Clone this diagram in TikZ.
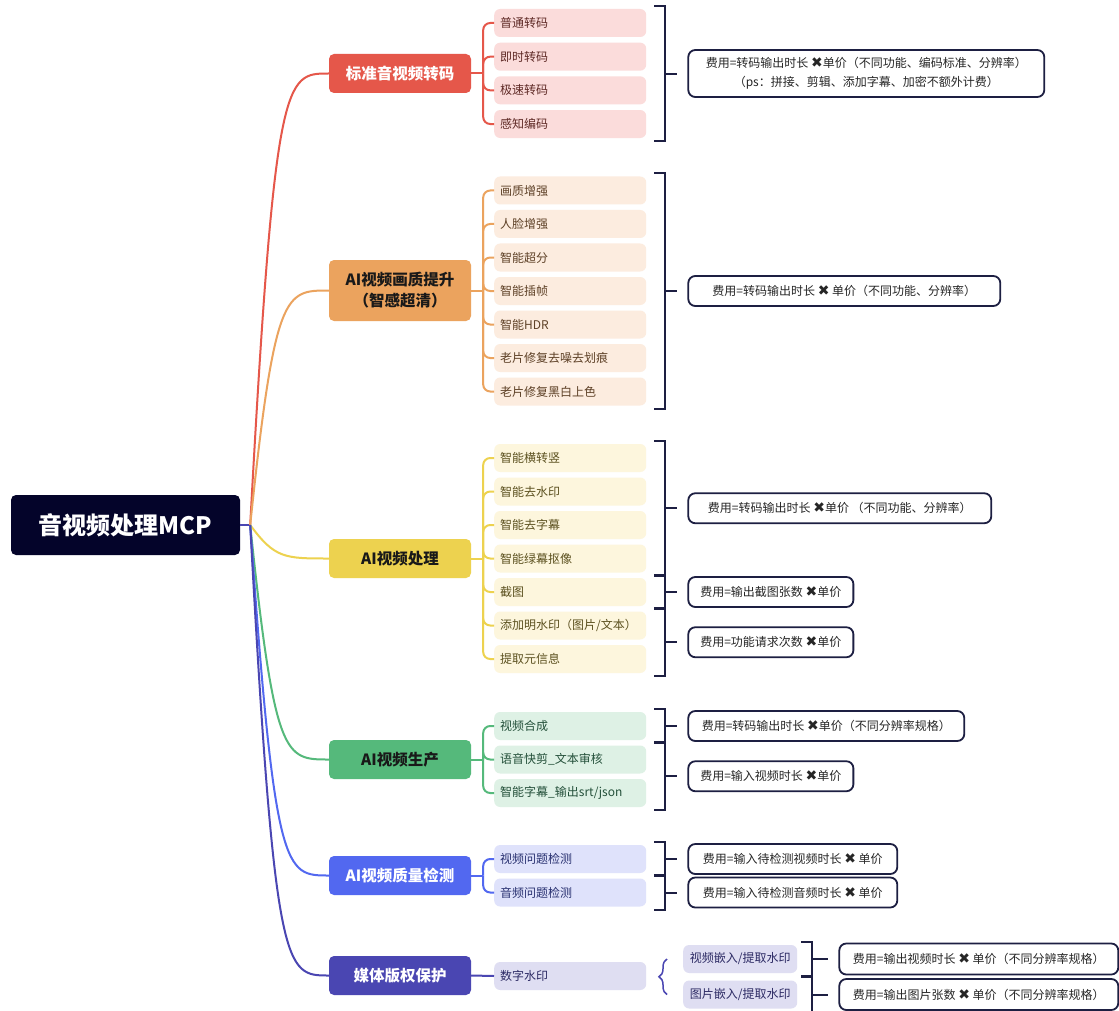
\documentclass[tikz,border=0pt]{standalone}
\usepackage{fontspec}
\setmainfont{Noto Sans CJK SC}
\newfontfamily\dejavu{DejaVu Sans}
\usetikzlibrary{calc,decorations.pathreplacing}

\definecolor{rootbg}{HTML}{04042A}
\definecolor{ink}{HTML}{1D1F42}
\definecolor{cA}{HTML}{E5574A}\definecolor{lA}{HTML}{FBDCDB}\definecolor{tA}{HTML}{5E2925}
\definecolor{cB}{HTML}{EBA35E}\definecolor{lB}{HTML}{FCECDF}\definecolor{tB}{HTML}{5E4127}
\definecolor{cC}{HTML}{EDD24F}\definecolor{lC}{HTML}{FDF6DD}\definecolor{tC}{HTML}{5C5120}
\definecolor{cD}{HTML}{55B97B}\definecolor{lD}{HTML}{DEF1E5}\definecolor{tD}{HTML}{24503A}
\definecolor{cE}{HTML}{5268F0}\definecolor{lE}{HTML}{DFE2FB}\definecolor{tE}{HTML}{283070}
\definecolor{cF}{HTML}{4A46B2}\definecolor{lF}{HTML}{DFDEF2}\definecolor{tF}{HTML}{2C2A64}

\newcommand\timesmark{{\dejavu\fontsize{14}{14}\selectfont ✖}}
% ] bracket from first to last item, tick towards the price box
\newcommand\pricebrk[4]{%
	\draw[brk] ([xshift=#4pt-11pt,yshift=3pt]#1.north east) -- ([xshift=#4pt,yshift=3pt]#1.north east)
		-- ([xshift=#4pt,yshift=-3pt]#2.south east) -- ([xshift=#4pt-11pt,yshift=-3pt]#2.south east);
	\draw[brk] ($(#1.north east)!.5!(#2.south east)+(#4pt,0)$) -- ([xshift=-10pt]#3.west);
}

\begin{document}
\begin{tikzpicture}[x=1pt, y=-1pt,
	root/.style={fill=rootbg, text=white, rounded corners=5pt, minimum width=229pt,
		minimum height=60pt, font=\fontsize{24}{28}\selectfont\bfseries},
	branch/.style={rounded corners=5pt, minimum width=142pt, minimum height=39pt,
		font=\fontsize{15.5}{21}\selectfont\bfseries, align=center},
	leaf/.style={rounded corners=6pt, text width=140pt, inner xsep=6pt, inner ysep=0pt,
		minimum height=28pt, anchor=west, font=\fontsize{12}{14}\selectfont, align=left},
	sub/.style={rounded corners=6pt, fill=lF, text=tF, minimum width=114pt, inner ysep=0pt,
		minimum height=28pt, anchor=west, font=\fontsize{12}{14}\selectfont},
	cost/.style={draw=ink, line width=1.8pt, rounded corners=7pt, fill=white, minimum height=30pt,
		inner xsep=12pt, anchor=west, text=black!85, font=\fontsize{12}{19}\selectfont, align=center},
	edge/.style={line width=2pt},
	brk/.style={draw=ink, line width=2pt},
]
\fill[white] (0,0) rectangle (1119,1011);
\useasboundingbox (0,0) rectangle (1119,1011);

% root and main branches
\node[root] (root) at (125.5,525) {音视频处理MCP};
\node[branch, fill=cA, text=white] (b1) at (400,73.5) {标准音视频转码};
\node[branch, fill=cB, text=black!90, minimum height=61pt] (b2) at (400,290.5) {AI视频画质提升\\（智感超清）};
\node[branch, fill=cC, text=black!90] (b3) at (400,558.5) {AI视频处理};
\node[branch, fill=cD, text=black!90] (b4) at (400,759.5) {AI视频生产};
\node[branch, fill=cE, text=white] (b5) at (400,875.5) {AI视频质量检测};
\node[branch, fill=cF, text=white] (b6) at (400,975.5) {媒体版权保护};

% items
\foreach \t [count=\i] in {普通转码,即时转码,极速转码,感知编码}
	\node[leaf, fill=lA, text=tA] (l1\i) at (494,{23+33.67*(\i-1)}) {\t};
\foreach \t [count=\i] in {画质增强,人脸增强,智能超分,智能插帧,智能HDR,老片修复去噪去划痕,老片修复黑白上色}
	\node[leaf, fill=lB, text=tB] (l2\i) at (494,{190.5+33.5*(\i-1)}) {\t};
\foreach \t [count=\i] in {智能横转竖,智能去水印,智能去字幕,智能绿幕抠像,截图,添加明水印（图片/文本）,提取元信息}
	\node[leaf, fill=lC, text=tC] (l3\i) at (494,{458+33.5*(\i-1)}) {\t};
\foreach \t [count=\i] in {视频合成,语音快剪\_文本审核,智能字幕\_输出srt/json}
	\node[leaf, fill=lD, text=tD] (l4\i) at (494,{726+33.5*(\i-1)}) {\t};
\foreach \t [count=\i] in {视频问题检测,音频问题检测}
	\node[leaf, fill=lE, text=tE] (l5\i) at (494,{859+33.5*(\i-1)}) {\t};
\node[leaf, fill=lF, text=tF] (l61) at (494,976) {数字水印};
\node[sub] (s1) at (683,959) {视频嵌入/提取水印};
\node[sub] (s2) at (683,994.5) {图片嵌入/提取水印};

% price boxes
\node[cost, minimum width=356pt, minimum height=47pt] (c1) at ($(l11.north east)!.5!(l14.south east)+(41pt,0)$)
	{费用=转码输出时长 \timesmark{}单价（不同功能、编码标准、分辨率）\\（ps：拼接、剪辑、添加字幕、加密不额外计费）};
\node[cost, minimum width=312pt] (c2) at ($(l21.north east)!.5!(l27.south east)+(41pt,0)$)
	{费用=转码输出时长 \timesmark{} 单价（不同功能、分辨率）};
\node[cost, minimum width=303pt] (c31) at ($(l31.north east)!.5!(l34.south east)+(41pt,0)$)
	{费用=转码输出时长 \timesmark{}单价 （不同功能、分辨率）};
\node[cost, minimum width=165pt] (c32) at ($(l35.north east)!.5!(l35.south east)+(41pt,0)$)
	{费用=输出截图张数 \timesmark{}单价};
\node[cost, minimum width=165pt] (c33) at ($(l36.north east)!.5!(l37.south east)+(41pt,0)$)
	{费用=功能请求次数 \timesmark{}单价};
\node[cost, minimum width=276pt] (c41) at ($(l41.north east)!.5!(l41.south east)+(41pt,0)$)
	{费用=转码输出时长 \timesmark{}单价（不同分辨率规格）};
\node[cost, minimum width=165pt] (c42) at ($(l42.north east)!.5!(l43.south east)+(41pt,0)$)
	{费用=输入视频时长 \timesmark{}单价};
\node[cost, minimum width=209pt] (c51) at ($(l51.north east)!.5!(l51.south east)+(41pt,0)$)
	{费用=输入待检测视频时长 \timesmark{} 单价};
\node[cost, minimum width=209pt] (c52) at ($(l52.north east)!.5!(l52.south east)+(41pt,0)$)
	{费用=输入待检测音频时长 \timesmark{} 单价};
\node[cost, minimum width=279pt, minimum height=31pt] (c61) at ($(s1.north east)!.5!(s1.south east)+(41pt,0)$)
	{费用=输出视频时长 \timesmark{} 单价（不同分辨率规格）};
\node[cost, minimum width=279pt, minimum height=31pt] (c62) at ($(s2.north east)!.5!(s2.south east)+(41pt,0)$)
	{费用=输出图片张数 \timesmark{} 单价（不同分辨率规格）};

% root to branches
\coordinate (hub) at ([xshift=10pt]root.east);
\draw[edge, cF] (root.east) -- (hub);
\foreach \b/\c in {b1/cA,b2/cB,b3/cC,b4/cD,b5/cE,b6/cF}
	\draw[edge, \c] (hub) .. controls ($(\b.west)+(-54pt,0)$) and ($(\b.west)+(-44pt,0)$) .. (\b.west);

% branches to items
\foreach \b/\c/\n in {1/cA/4,2/cB/7,3/cC/7,4/cD/3,5/cE/2} {
	\draw[edge, \c] (b\b.east) -- ++(12pt,0) coordinate (t\b);
	\foreach \i in {1,...,\n}
		\draw[edge, \c, rounded corners=7pt] (t\b) |- (l\b\i.west);
}
\draw[edge, cF] (b6.east) -- (l61.west);
\draw[cF, line width=1.5pt, decorate, decoration={brace, amplitude=8pt}]
	([xshift=-16pt]s2.west) -- ([xshift=-16pt]s1.west);

% pricing brackets
\pricebrk{l11}{l14}{c1}{19}
\pricebrk{l21}{l27}{c2}{19}
\pricebrk{l31}{l34}{c31}{19}
\pricebrk{l35}{l35}{c32}{19}
\pricebrk{l36}{l37}{c33}{19}
\pricebrk{l41}{l41}{c41}{19}
\pricebrk{l42}{l43}{c42}{19}
\pricebrk{l51}{l51}{c51}{19}
\pricebrk{l52}{l52}{c52}{19}
\pricebrk{s1}{s1}{c61}{15}
\pricebrk{s2}{s2}{c62}{15}
\end{tikzpicture}
\end{document}
